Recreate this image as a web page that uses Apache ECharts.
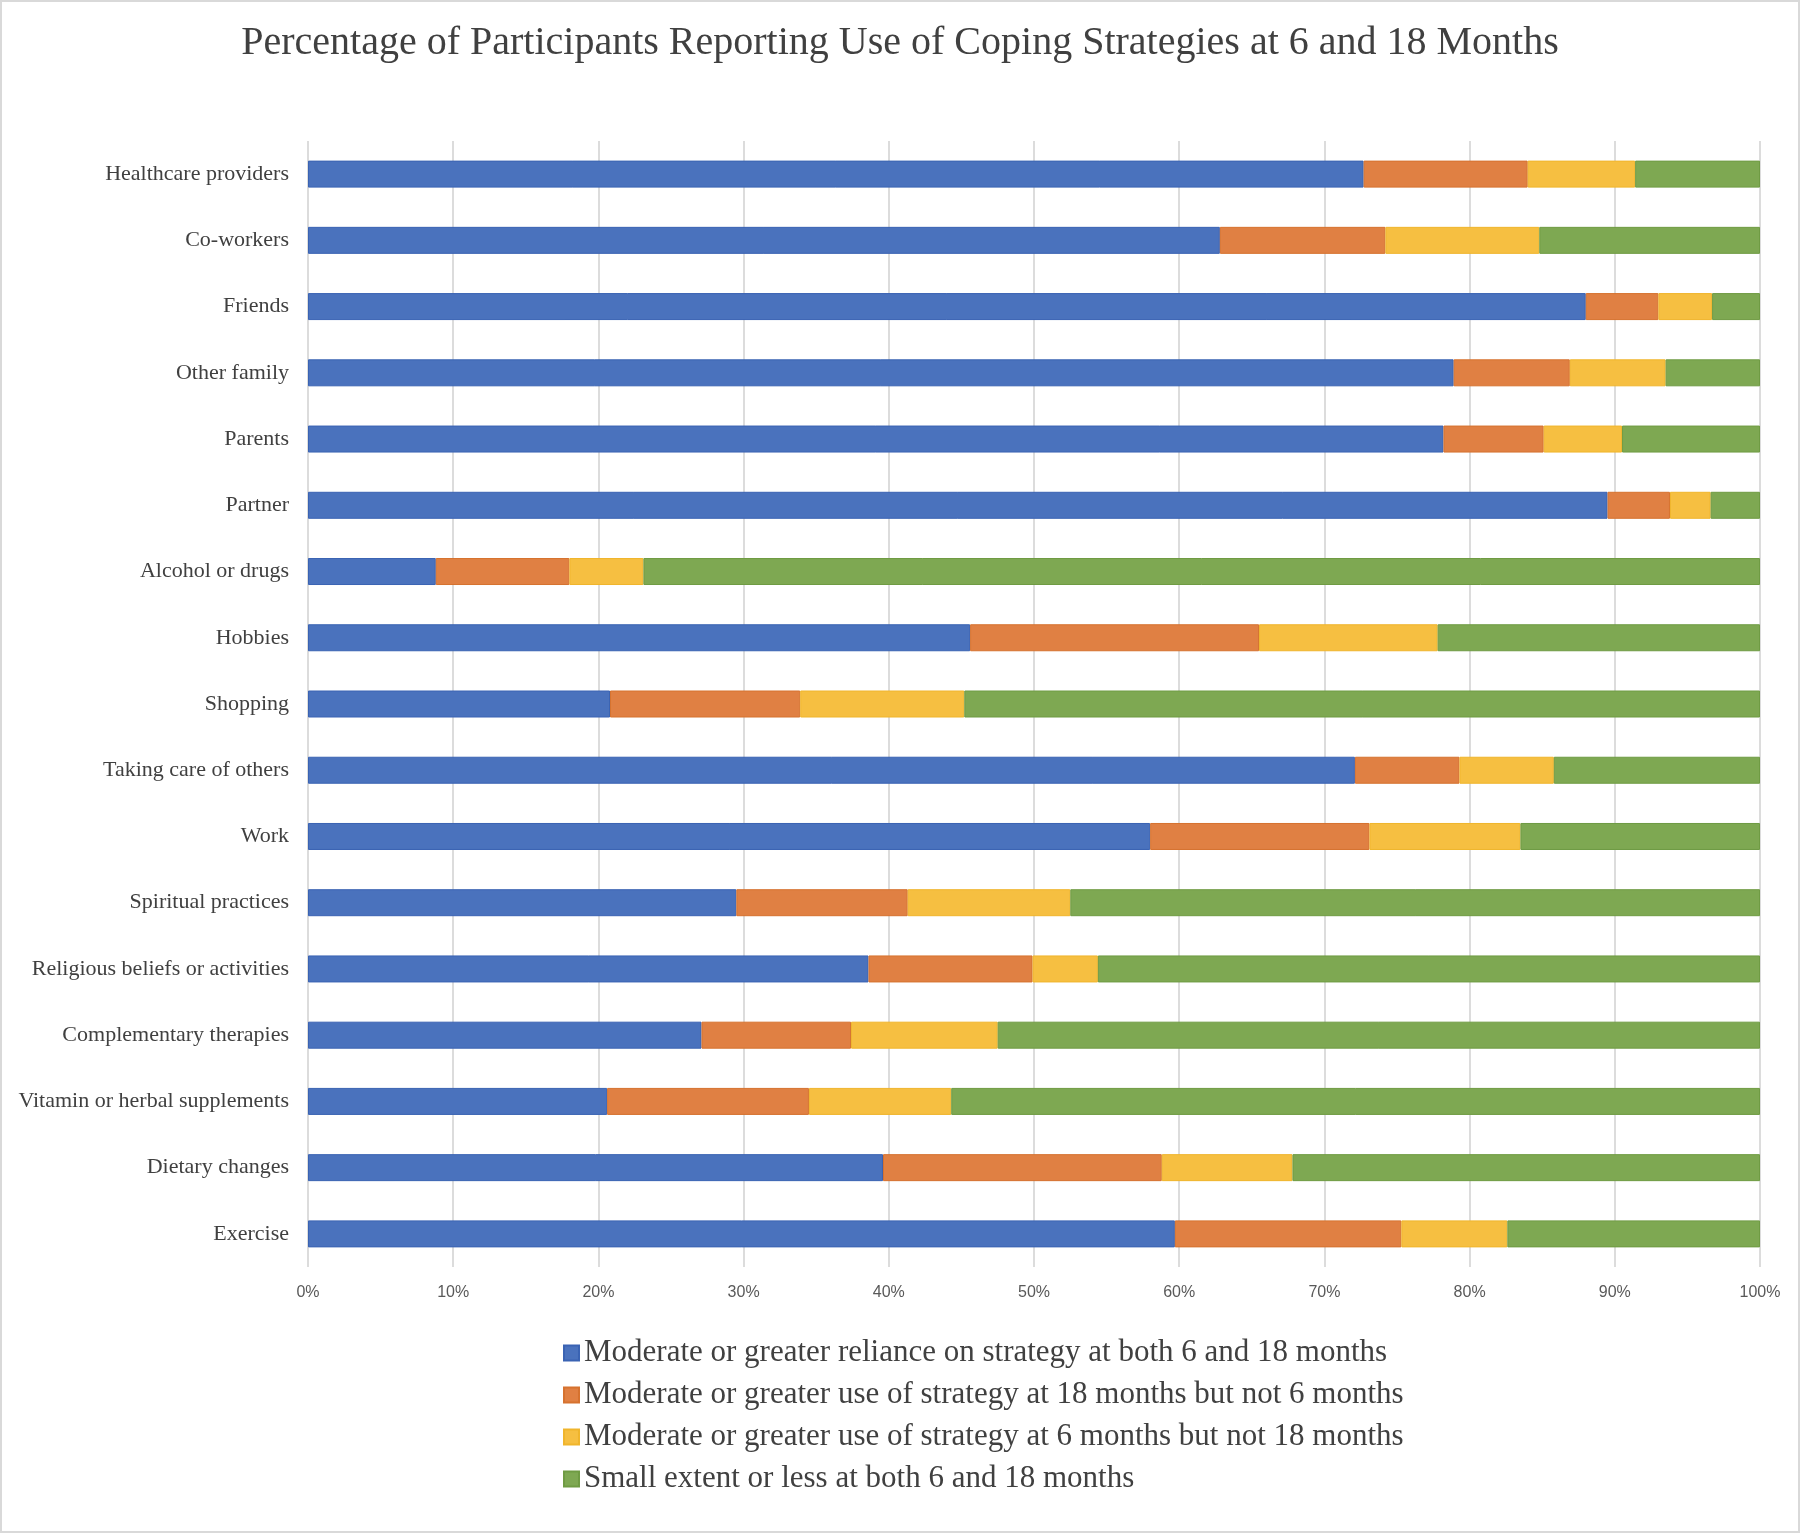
<!DOCTYPE html>
<html>
<head>
<meta charset="utf-8">
<script src="https://cdn.jsdelivr.net/npm/echarts@6/dist/echarts.min.js"></script>
<style>
html,body{margin:0;padding:0;background:#fff;}
#wrap{width:1800px;height:1533px;box-sizing:border-box;border:2px solid #d9d9d9;position:relative;}
#chart{position:absolute;left:-2px;top:-2px;width:1800px;height:1533px;}
</style>
</head>
<body>
<div id="wrap"><div id="chart"></div></div>
<script>
const categories = ["Healthcare providers","Co-workers","Friends","Other family","Parents","Partner","Alcohol or drugs","Hobbies","Shopping","Taking care of others","Work","Spiritual practices","Religious beliefs or activities","Complementary therapies","Vitamin or herbal supplements","Dietary changes","Exercise"];
const seriesNames = ["Moderate or greater reliance on strategy at both 6 and 18 months","Moderate or greater use of strategy at 18 months but not 6 months","Moderate or greater use of strategy at 6 months but not 18 months","Small extent or less at both 6 and 18 months"];
const bothValues   = [72.7, 62.8, 88.0, 78.9, 78.2, 89.5,  8.8, 45.6, 20.8, 72.1, 58.0, 29.5, 38.6, 27.1, 20.6, 39.6, 59.7];
const only18Values = [11.3, 11.4,  5.0,  8.0,  6.9,  4.3,  9.2, 19.9, 13.1,  7.2, 15.1, 11.8, 11.3, 10.3, 13.9, 19.2, 15.6];
const only6Values  = [ 7.4, 10.6,  3.7,  6.6,  5.4,  2.8,  5.1, 12.3, 11.3,  6.5, 10.4, 11.2,  4.5, 10.1,  9.8,  9.0,  7.3];
const smallValues  = [ 8.6, 15.2,  3.3,  6.5,  9.5,  3.4, 76.9, 22.2, 54.8, 14.2, 16.5, 47.5, 45.6, 52.5, 55.7, 32.2, 17.4];
const xTicks = [0,10,20,30,40,50,60,70,80,90,100];

const colors = ["#4a72bd","#e08043","#f6bf41","#7ea852"];
const borders = ["#3a63b3","#d6722f","#f0b52c","#6f9b43"];
const dataSets = [bothValues, only18Values, only6Values, smallValues];

const chart = echarts.init(document.getElementById('chart'), null, {renderer:'canvas'});
chart.setOption({
  animation:false,
  backgroundColor:'transparent',
  title:{
    text:'Percentage of Participants Reporting Use of Coping Strategies at 6 and 18 Months',
    left:'center', top:18,
    textStyle:{fontFamily:'Liberation Serif', fontSize:40, fontWeight:'normal', color:'#404040'}
  },
  legend:{
    orient:'vertical', left:558, top:1332,
    itemWidth:15, itemHeight:15, itemGap:10,
    icon:'rect',
    textStyle:{fontFamily:'Liberation Serif', fontSize:31, color:'#404040', lineHeight:32, padding:[0,0,0,0]},
    data:seriesNames
  },
  grid:{left:308, right:40, top:141, height:1126, containLabel:false},
  xAxis:{
    type:'value', min:0, max:100, interval:10,
    axisLine:{show:false}, axisTick:{show:false},
    splitLine:{show:true, lineStyle:{color:'#d0d0d0', width:1.5}},
    axisLabel:{formatter:'{value}%', margin:18, fontFamily:'Liberation Sans Narrow, Liberation Sans', fontSize:16, color:'#595959',
      customValues: xTicks}
  },
  yAxis:{
    type:'category', data:categories, inverse:true,
    axisLine:{show:false}, axisTick:{show:false},
    axisLabel:{margin:19, fontFamily:'Liberation Serif', fontSize:22, color:'#404040'}
  },
  series: seriesNames.map((n,i)=>({
    name:n, type:'bar', stack:'total', barWidth:27,
    data:dataSets[i],
    itemStyle:{color:colors[i], borderColor:borders[i], borderWidth:1}
  }))
});
</script>
</body>
</html>
